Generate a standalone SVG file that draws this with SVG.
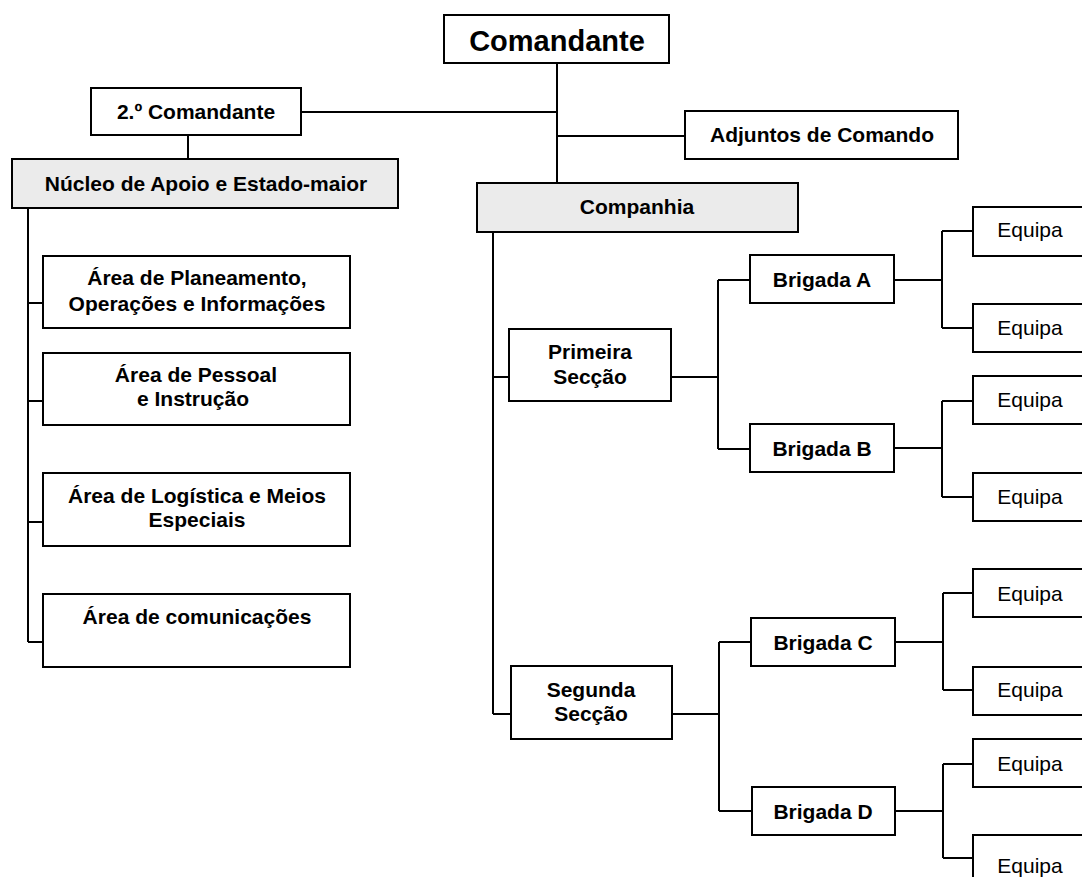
<svg xmlns="http://www.w3.org/2000/svg" width="1082" height="877" viewBox="0 0 1082 877">
<style>
.box{fill:#ffffff;stroke:#000;stroke-width:2}
.shade{fill:#ebebeb;stroke:#000;stroke-width:2}
.t{font-family:"Liberation Sans",Arial,sans-serif;font-size:21px;font-weight:bold;fill:#000;text-anchor:middle}
.r{font-family:"Liberation Sans",Arial,sans-serif;font-size:21px;fill:#000;text-anchor:middle}
.big{font-size:29px}
#connectors path{fill:none;stroke:#000;stroke-width:2}
</style>
<rect width="1082" height="877" fill="#fff"/>
<g id="connectors">
<path d="M557 63V183"/>
<path d="M301 112H557"/>
<path d="M557 136H685"/>
<path d="M188 135V159"/>
<path d="M28 208V642"/>
<path d="M28 303H43M28 401H43M28 522H43M28 642H43"/>
<path d="M493 232V714"/>
<path d="M493 377H509M493 714H511"/>
<path d="M671 377H718M718 280V449M718 280H750M718 449H750"/>
<path d="M672 714H719M719 642V811M719 642H751M719 811H752"/>
<path d="M894 280H942M942 231V328M942 231H973M942 328H973"/>
<path d="M894 448H942M942 401V497M942 401H973M942 497H973"/>
<path d="M895 642H943M943 593V690M943 593H973M943 690H973"/>
<path d="M895 811H943M943 764V858M943 764H973M943 858H973"/>
</g>
<g id="comandante"><rect class="box" x="444" y="15" width="225" height="48"/><text class="t big" x="557" y="51">Comandante</text></g>
<g id="segundo-comandante"><rect class="box" x="91" y="88" width="210" height="47"/><text class="t" x="196" y="119">2.º Comandante</text></g>
<g id="adjuntos"><rect class="box" x="685" y="111" width="273" height="48"/><text class="t" x="822" y="142">Adjuntos de Comando</text></g>
<g id="nucleo"><rect class="shade" x="12" y="159" width="386" height="49"/><text class="t" x="206" y="191">Núcleo de Apoio e Estado-maior</text></g>
<g id="companhia"><rect class="shade" x="477" y="183" width="321" height="49"/><text class="t" x="637" y="214">Companhia</text></g>
<g id="area-planeamento"><rect class="box" x="43" y="256" width="307" height="72"/><text class="t" x="197" y="285">Área de Planeamento,</text><text class="t" x="197" y="311">Operações e Informações</text></g>
<g id="area-pessoal"><rect class="box" x="43" y="353" width="307" height="72"/><text class="t" x="196" y="382">Área de Pessoal</text><text class="t" x="193" y="406">e Instrução</text></g>
<g id="area-logistica"><rect class="box" x="43" y="473" width="307" height="73"/><text class="t" x="197" y="503">Área de Logística e Meios</text><text class="t" x="197" y="527">Especiais</text></g>
<g id="area-comunicacoes"><rect class="box" x="43" y="594" width="307" height="73"/><text class="t" x="197" y="624">Área de comunicações</text></g>
<g id="primeira-seccao"><rect class="box" x="509" y="329" width="162" height="72"/><text class="t" x="590" y="359">Primeira</text><text class="t" x="590" y="384">Secção</text></g>
<g id="segunda-seccao"><rect class="box" x="511" y="666" width="161" height="73"/><text class="t" x="591" y="697">Segunda</text><text class="t" x="591" y="721">Secção</text></g>
<g id="brigada-a"><rect class="box" x="750" y="255" width="144" height="48"/><text class="t" x="822" y="287">Brigada A</text></g>
<g id="brigada-b"><rect class="box" x="750" y="424" width="144" height="48"/><text class="t" x="822" y="456">Brigada B</text></g>
<g id="brigada-c"><rect class="box" x="751" y="618" width="144" height="48"/><text class="t" x="823" y="650">Brigada C</text></g>
<g id="brigada-d"><rect class="box" x="752" y="787" width="143" height="48"/><text class="t" x="823" y="819">Brigada D</text></g>
<g id="equipa-1"><rect class="box" x="973" y="207" width="120" height="49"/><text class="r" x="1030" y="237">Equipa</text></g>
<g id="equipa-2"><rect class="box" x="973" y="304" width="120" height="48"/><text class="r" x="1030" y="335">Equipa</text></g>
<g id="equipa-3"><rect class="box" x="973" y="376" width="120" height="48"/><text class="r" x="1030" y="407">Equipa</text></g>
<g id="equipa-4"><rect class="box" x="973" y="473" width="120" height="48"/><text class="r" x="1030" y="504">Equipa</text></g>
<g id="equipa-5"><rect class="box" x="973" y="569" width="120" height="48"/><text class="r" x="1030" y="601">Equipa</text></g>
<g id="equipa-6"><rect class="box" x="973" y="667" width="120" height="48"/><text class="r" x="1030" y="697">Equipa</text></g>
<g id="equipa-7"><rect class="box" x="973" y="739" width="120" height="48"/><text class="r" x="1030" y="771">Equipa</text></g>
<g id="equipa-8"><rect class="box" x="973" y="835" width="120" height="48"/><text class="r" x="1030" y="873">Equipa</text></g>
</svg>
